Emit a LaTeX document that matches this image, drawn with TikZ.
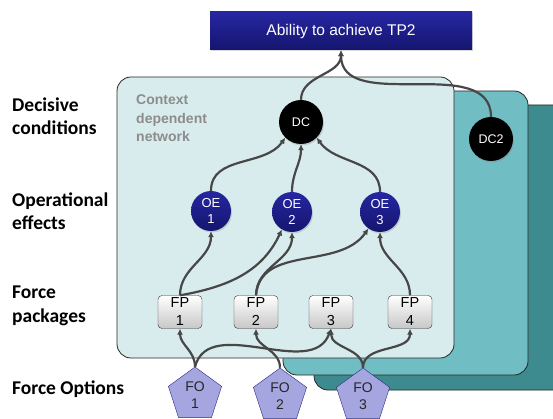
\documentclass[tikz,border=0pt]{standalone}
\usepackage{fontspec}
\setmainfont{Liberation Sans}
\newfontfamily\labelfont{Carlito}
\usetikzlibrary{arrows.meta,shapes.geometric,shadows}
\definecolor{ctxfill}{HTML}{D9ECED}
\definecolor{midteal}{HTML}{70BEC3}
\definecolor{darkteal}{HTML}{3D8B8E}
\definecolor{navytop}{HTML}{2626A2}
\definecolor{navybot}{HTML}{15156F}
\definecolor{fofill}{HTML}{A5A5DF}
\definecolor{foline}{HTML}{2B2B80}
\definecolor{linkgray}{HTML}{474747}
\begin{document}
\begin{tikzpicture}[x=1pt,y=-1pt,
  layer/.style={draw=black!85, line width=0.8pt, rounded corners=14pt},
  rowlabel/.style={anchor=west, align=left, inner sep=0pt, font=\labelfont\bfseries\fontsize{19.5}{23.5}\selectfont},
  goalbox/.style={top color=navytop, bottom color=navybot, text=white, minimum width=262pt, minimum height=38pt, font=\fontsize{15.5}{18}\selectfont, drop shadow={opacity=0.3, shadow xshift=1pt, shadow yshift=-1.5pt}},
  dcnode/.style={circle, fill=black, text=white, minimum size=44pt, inner sep=0pt, font=\fontsize{12.5}{14}\selectfont, drop shadow={opacity=0.3, shadow xshift=1pt, shadow yshift=-1.5pt}},
  oenode/.style={circle, top color=navytop, bottom color=navybot, text=white, minimum size=40pt, inner sep=0pt, align=center, font=\fontsize{13}{16}\selectfont, drop shadow={opacity=0.3, shadow xshift=1pt, shadow yshift=-1.5pt}},
  fpnode/.style={draw=black!80, rounded corners=4pt, top color=white, bottom color=black!22, minimum width=44pt, minimum height=33pt, inner sep=0pt, align=center, font=\fontsize{14.5}{18}\selectfont},
  fonode/.style={regular polygon, regular polygon sides=5, draw=foline, fill=fofill, minimum size=56pt, inner sep=0pt, align=center, text=black!85, font=\fontsize{14}{16.5}\selectfont},
  link/.style={draw=linkgray, line width=2.2pt, -{Latex[length=6pt,width=6pt]}}
]
\useasboundingbox (0,0) rectangle (553,419);
\draw[layer, fill=darkteal] (314,105) rectangle (570,390);
\draw[layer, fill=midteal] (283,91) rectangle (528,375);
\draw[layer, fill=ctxfill] (117,77) rectangle (454,358);
\node[anchor=north west, align=left, inner sep=0pt, text=black!45, font=\bfseries\fontsize{14}{18.5}\selectfont] (ctx) at (136,95) {Context\\dependent\\network};

\node[rowlabel] (lbldc) at (12,116) {Decisive\\conditions};
\node[rowlabel] (lbloe) at (12,211) {Operational\\effects};
\node[rowlabel] (lblfp) at (12,306) {Force\\packages};
\node[rowlabel] (lblfo) at (12,389) {Force Options};

\node[goalbox] (goal) at (341,31) {Ability to achieve TP2};
\node[dcnode] (dc) at (301,122) {DC};
\node[dcnode] (dctwo) at (491,139) {DC2};
\node[oenode] (oe1) at (211,211) {OE\\1};
\node[oenode] (oe2) at (292,212) {OE\\2};
\node[oenode] (oe3) at (380,212) {OE\\3};
\node[fpnode] (fp1) at (180,312) {FP\\1};
\node[fpnode] (fp2) at (256,312) {FP\\2};
\node[fpnode] (fp3) at (331,312) {FP\\3};
\node[fpnode] (fp4) at (410,312) {FP\\4};
\node[fonode] (fo1) at (195,395) {FO\\1};
\node[fonode] (fo2) at (280,396) {FO\\2};
\node[fonode] (fo3) at (363,396) {FO\\3};

\draw[link] (dc.north) to[out=90,in=-90] (goal.south);
\draw[link] (dctwo.north) to[out=90,in=-90] (goal.south);
\draw[link] (oe1.north) to[out=90,in=-125] (dc.-135);
\draw[link] (oe2.north) to[out=90,in=-90] (dc.south);
\draw[link] (oe3.north) to[out=90,in=-55] (dc.-45);
\draw[link] (fp1.north) to[out=90,in=-90] (oe1.south);
\draw[link] (fp1.north) to[out=10,in=-115] (oe2.-120);
\draw[link] (fp2.north) to[out=90,in=-90] (oe2.south);
\draw[link] (fp2.north) to[out=85,in=-125] (oe3.-125);
\draw[link] (fp4.north) to[out=90,in=-90] (oe3.south);
\draw[link] (fo1.north) to[out=90,in=-90] (fp1.south);
\draw[link] (fo1.north) to[out=75,in=-110] (fp3.south);
\draw[link] (fo2.north) to[out=90,in=-90] (fp2.south);
\draw[link] (fo3.north) to[out=90,in=-90] (fp3.south);
\draw[link] (fo3.north) to[out=90,in=-90] (fp4.south);
\end{tikzpicture}
\end{document}
